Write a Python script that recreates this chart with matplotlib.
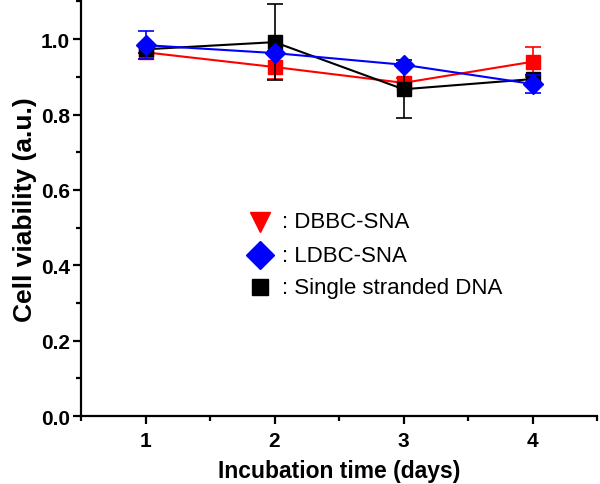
import matplotlib
matplotlib.use("Agg")
import matplotlib.pyplot as plt
from matplotlib.ticker import MultipleLocator

days = [1, 2, 3, 4]

dbbc = [0.965, 0.926, 0.884, 0.940]
dbbc_err = [0.018, 0.032, 0.012, 0.040]

ldbc = [0.984, 0.963, 0.932, 0.881]
ldbc_err = [0.037, 0.005, 0.005, 0.024]

ssdna = [0.973, 0.992, 0.867, 0.894]
ssdna_err = [0.010, 0.100, 0.077, 0.010]

legend_labels = [": DBBC-SNA", ": LDBC-SNA", ": Single stranded DNA"]

plt.rcParams["font.family"] = ["Liberation Sans", "DejaVu Sans"]

fig = plt.figure(figsize=(6.0, 4.85), dpi=100)
ax = fig.add_axes([0.135, 0.14, 0.86, 0.855])

kw = dict(capsize=6, elinewidth=1.2, capthick=1.2, linewidth=1.5)
ax.errorbar(days, dbbc, yerr=dbbc_err, color="red", marker="s", markersize=10, zorder=3, **kw)
ax.errorbar(days, ssdna, yerr=ssdna_err, color="black", marker="s", markersize=10, zorder=4, **kw)
ax.errorbar(days, ldbc, yerr=ldbc_err, color="blue", marker="D", markersize=10, zorder=5, **kw)

# legend drawn as marker + text, Origin style
leg_x = 1.89
leg_y = [0.515, 0.427, 0.342]
leg_markers = [("v", "red", 15), ("D", "blue", 14), ("s", "black", 12)]
for (m, c, s), yy, lab in zip(leg_markers, leg_y, legend_labels):
    ax.plot([leg_x], [yy], marker=m, color=c, markersize=s, linestyle="none")
    ax.text(leg_x + 0.17, yy, lab, fontsize=16, va="center", ha="left")

ax.set_xlim(0.5, 4.5)
ax.set_ylim(0, 1.1)
ax.xaxis.set_major_locator(MultipleLocator(1))
ax.xaxis.set_minor_locator(MultipleLocator(0.5))
ax.set_yticks([0.0, 0.2, 0.4, 0.6, 0.8, 1.0])
ax.set_yticklabels(["0.0", "0.2", "0.4", "0.6", "0.8", "1.0"])
ax.yaxis.set_minor_locator(MultipleLocator(0.1))

for side in ["top", "right"]:
    ax.spines[side].set_visible(False)
for side in ["left", "bottom"]:
    ax.spines[side].set_linewidth(1.6)

ax.tick_params(which="major", direction="out", length=6, width=1.6, labelsize=15)
ax.tick_params(which="minor", direction="out", length=3.5, width=1.6)
ax.tick_params(axis="x", which="major", pad=5)
ax.tick_params(axis="y", which="major", pad=2)
for lab in ax.get_xticklabels() + ax.get_yticklabels():
    lab.set_fontweight("bold")

ax.set_xlabel("Incubation time (days)", fontsize=16.5, fontweight="bold", labelpad=6)
ax.set_ylabel("Cell viability (a.u.)", fontsize=19, fontweight="bold", labelpad=3)

fig.savefig("out.png", dpi=100)
